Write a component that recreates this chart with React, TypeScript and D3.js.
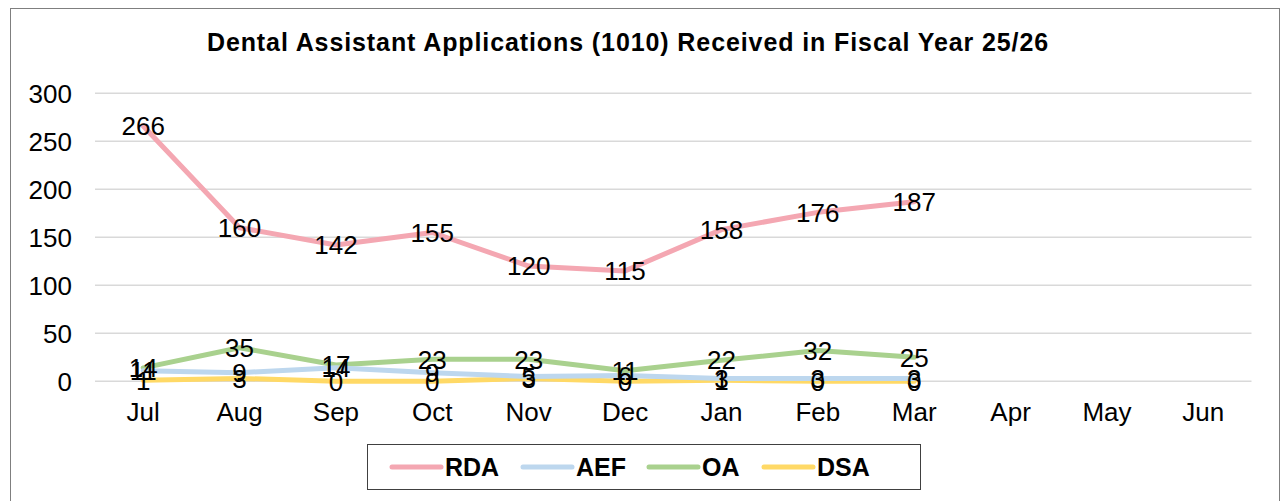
import { useEffect, useRef } from "react";
import * as d3 from "d3";

// Data
const months = ["Jul", "Aug", "Sep", "Oct", "Nov", "Dec", "Jan", "Feb", "Mar", "Apr", "May", "Jun"];
const rda = [266, 160, 142, 155, 120, 115, 158, 176, 187];
const aef = [11, 9, 14, 9, 5, 6, 3, 3, 3];
const oa = [14, 35, 17, 23, 23, 11, 22, 32, 25];
const dsa = [1, 3, 0, 0, 3, 0, 1, 0, 0];
const yTicks = [0, 50, 100, 150, 200, 250, 300];
const seriesNames = ["RDA", "AEF", "OA", "DSA"];
const seriesColors = ["#F4A7B2", "#BDD7EE", "#A9D18E", "#FFD966"];

const App = () => {
  const svgRef = useRef<SVGSVGElement>(null);

  useEffect(() => {
    document.body.style.margin = "0";
    const W = 1281;
    const H = 501;
    const svg = d3.select(svgRef.current);
    svg.selectAll("*").remove();
    svg.attr("width", W).attr("height", H).style("display", "block");

    const font = "Liberation Sans, Arial, sans-serif";

    // chart border
    svg
      .append("rect")
      .attr("x", 10.5)
      .attr("y", 8.5)
      .attr("width", 1269)
      .attr("height", 500)
      .attr("fill", "white")
      .attr("stroke", "#7f7f7f")
      .attr("stroke-width", 1);

    // title
    svg
      .append("text")
      .attr("x", 628)
      .attr("y", 51)
      .attr("text-anchor", "middle")
      .attr("font-family", font)
      .attr("font-weight", "bold")
      .attr("font-size", 25)
      .attr("letter-spacing", 0.9)
      .text("Dental Assistant Applications (1010) Received in Fiscal Year 25/26");

    const x = d3.scaleBand().domain(months).range([95, 1251.5]);
    const y = d3.scaleLinear().domain([0, 300]).range([381.3, 93.3]);

    // gridlines
    svg
      .append("g")
      .selectAll("line")
      .data(yTicks)
      .enter()
      .append("line")
      .attr("x1", 95)
      .attr("x2", 1251.5)
      .attr("y1", (d) => y(d))
      .attr("y2", (d) => y(d))
      .attr("stroke", "#d9d9d9")
      .attr("stroke-width", 1.5);

    // y labels
    svg
      .append("g")
      .selectAll("text")
      .data(yTicks)
      .enter()
      .append("text")
      .attr("x", 72)
      .attr("y", (d) => y(d) + 9.3)
      .attr("text-anchor", "end")
      .attr("font-family", font)
      .attr("font-size", 26)
      .text((d) => d);

    // x labels
    svg
      .append("g")
      .selectAll("text")
      .data(months)
      .enter()
      .append("text")
      .attr("x", (d) => x(d)! + x.bandwidth() / 2)
      .attr("y", 421)
      .attr("text-anchor", "middle")
      .attr("font-family", font)
      .attr("font-size", 26)
      .text((d) => d);

    const allSeries = [rda, aef, oa, dsa];
    const line = d3
      .line<number>()
      .x((_, i) => x(months[i])! + x.bandwidth() / 2)
      .y((d) => y(d));

    // draw in reverse so RDA sits on top like Excel
    [3, 2, 1, 0].forEach((s) => {
      svg
        .append("path")
        .datum(allSeries[s])
        .attr("fill", "none")
        .attr("stroke", seriesColors[s])
        .attr("stroke-width", 5)
        .attr("stroke-linejoin", "round")
        .attr("stroke-linecap", "round")
        .attr("d", line);
    });

    // data labels centered on points
    allSeries.forEach((vals) => {
      svg
        .append("g")
        .selectAll("text")
        .data(vals)
        .enter()
        .append("text")
        .attr("x", (_, i) => x(months[i])! + x.bandwidth() / 2)
        .attr("y", (d) => y(d) + 9.3)
        .attr("text-anchor", "middle")
        .attr("font-family", font)
        .attr("font-size", 26)
        .text((d) => d);
    });

    // legend
    const legend = svg.append("g");
    legend
      .append("rect")
      .attr("x", 367.5)
      .attr("y", 444.5)
      .attr("width", 553)
      .attr("height", 45)
      .attr("fill", "white")
      .attr("stroke", "#404040")
      .attr("stroke-width", 1);
    const legendX = [390, 521, 647, 762];
    seriesNames.forEach((name, i) => {
      legend
        .append("line")
        .attr("x1", legendX[i] + 2)
        .attr("x2", legendX[i] + 51)
        .attr("y1", 467)
        .attr("y2", 467)
        .attr("stroke", seriesColors[i])
        .attr("stroke-width", 5)
        .attr("stroke-linecap", "round");
      legend
        .append("text")
        .attr("x", legendX[i] + 55)
        .attr("y", 476)
        .attr("font-family", font)
        .attr("font-weight", "bold")
        .attr("font-size", 25)
        .text(name);
    });
  }, []);

  return <svg ref={svgRef}></svg>;
};

export default App;
